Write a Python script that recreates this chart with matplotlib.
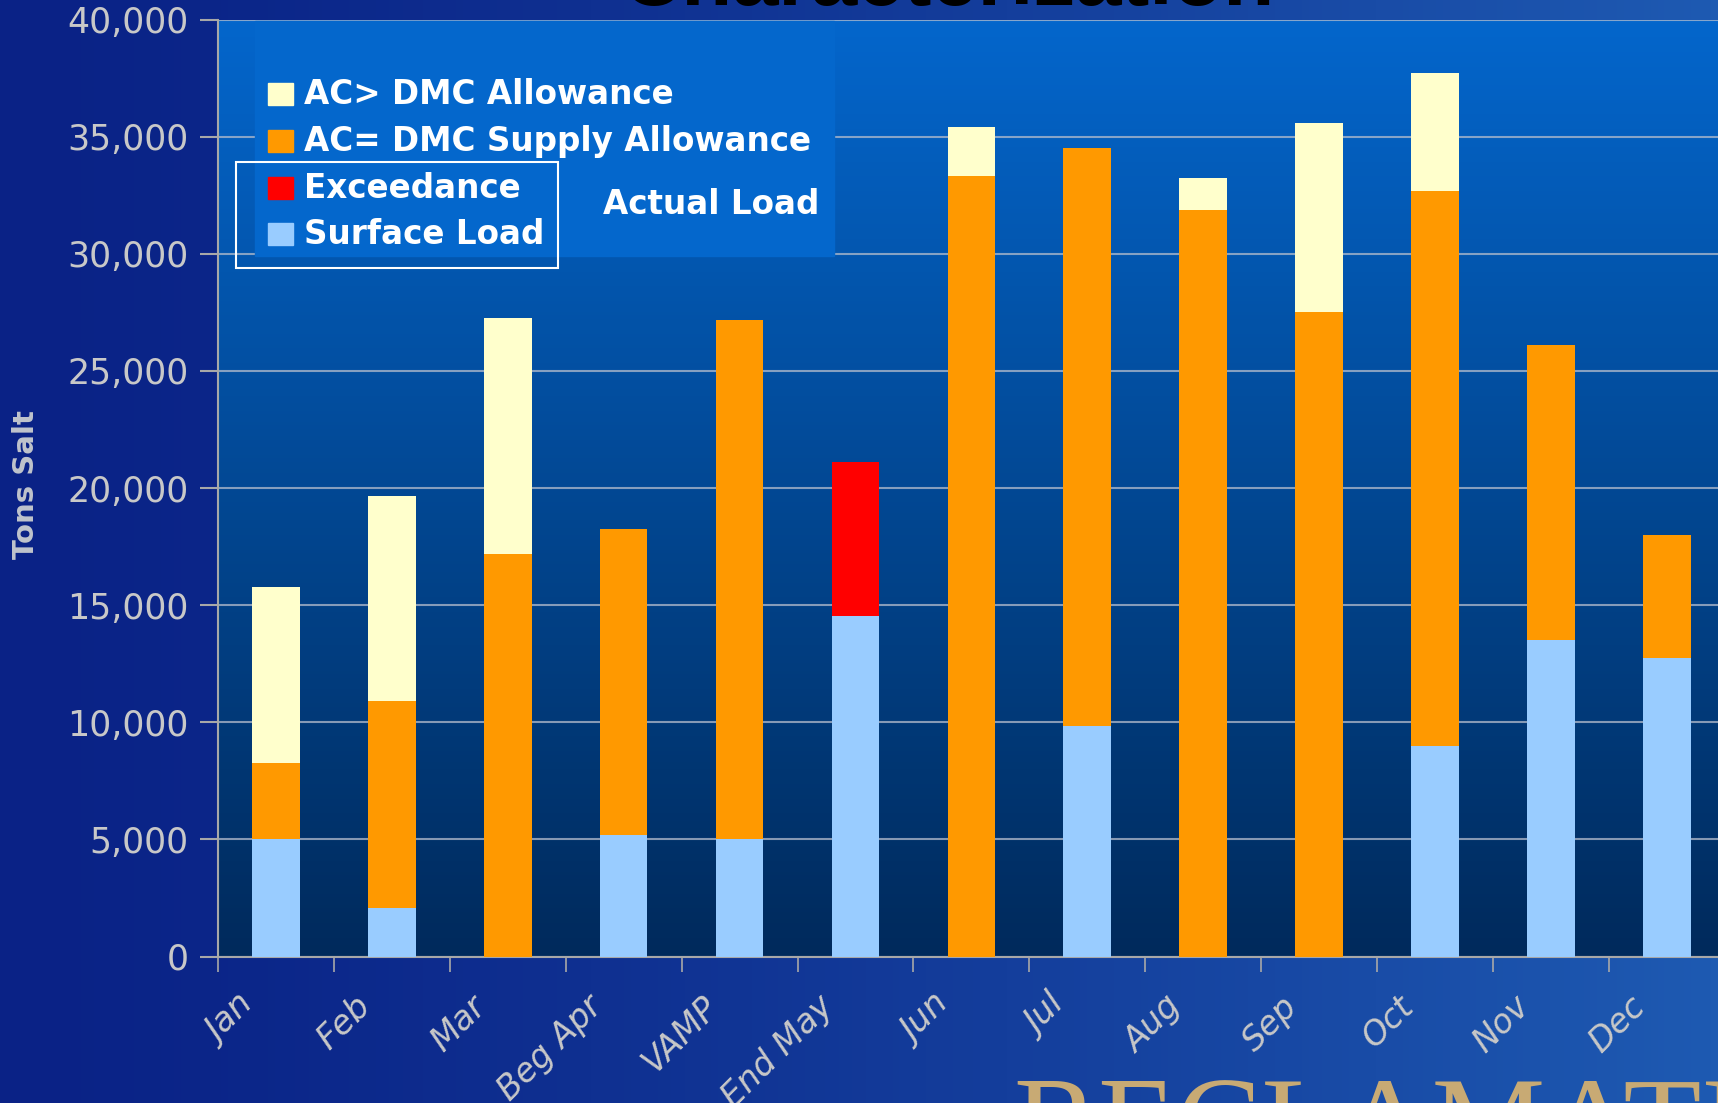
import numpy as np
import matplotlib
matplotlib.use("Agg")
import matplotlib.pyplot as plt
from matplotlib.patches import Rectangle

categories = ["Jan", "Feb", "Mar", "Beg Apr", "VAMP", "End May", "Jun",
              "Jul", "Aug", "Sep", "Oct", "Nov", "Dec"]

# tons of salt per segment, bottom to top
surface_load = [5000, 2050, 0, 5200, 5000, 14550, 0, 9830, 0, 0, 8980, 13520, 12730]
exceedance = [0, 0, 0, 0, 0, 6550, 0, 0, 0, 0, 0, 0, 0]
supply_allowance = [3280, 8850, 17170, 13050, 22180, 0, 33310, 24700, 31860, 27510, 23720, 12580, 5280]
dmc_allowance = [7490, 8750, 10100, 0, 0, 0, 2110, 0, 1400, 8090, 5010, 0, 0]

legend_labels = ["AC> DMC Allowance", "AC= DMC Supply Allowance", "Exceedance", "Surface Load"]
yticks = [0, 5000, 10000, 15000, 20000, 25000, 30000, 35000, 40000]

W, H = 1718, 1103


def fx(x):
    return x / W


def fy(y):
    return 1 - y / H


def main():
    plt.rcParams["font.family"] = ["DejaVu Sans"]
    fig = plt.figure(figsize=(W / 100, H / 100), dpi=100)

    # slide background
    bg = fig.add_axes([0, 0, 1, 1], zorder=-10)
    t = np.linspace(0, 1, 256) ** 1.3
    left = np.array([10, 34, 134]) / 255
    right = np.array([30, 90, 178]) / 255
    grad = left[None, :] + (right - left)[None, :] * t[:, None]
    bg.imshow(grad[None, :, :], aspect="auto", extent=[0, 1, 0, 1])
    bg.set_axis_off()

    ax = fig.add_axes([fx(218), fy(956.5), 13 * 115.9 / W, (956.5 - 19.7) / H])
    ax.set_xlim(-0.5, 12.5)
    ax.set_ylim(0, 40000)

    # plot area gradient
    top = np.array([4, 102, 204]) / 255
    bot = np.array([0, 42, 92]) / 255
    s = np.linspace(0, 1, 256)
    pg = top[None, :] + (bot - top)[None, :] * s[:, None]
    ax.imshow(pg[:, None, :], aspect="auto", extent=[-0.5, 12.5, 0, 40000], zorder=0)

    ax.set_axisbelow(True)
    ax.yaxis.grid(True, color="#B4BCCC", lw=1.5, alpha=0.75, zorder=1)

    # legend background covers gridlines
    ax.add_patch(Rectangle((fx(255), fy(256)), (834 - 255) / W, (256 - 21) / H,
                           transform=fig.transFigure, color="#0467CC", zorder=1.5))

    x = np.arange(len(categories))
    w = 0.41
    b1 = np.array(surface_load)
    b2 = b1 + np.array(exceedance)
    b3 = b2 + np.array(supply_allowance)
    ax.bar(x, surface_load, w, color="#99CCFF", zorder=3)
    ax.bar(x, exceedance, w, bottom=b1, color="#FF0000", zorder=3)
    ax.bar(x, supply_allowance, w, bottom=b2, color="#FF9900", zorder=3)
    ax.bar(x, dmc_allowance, w, bottom=b3, color="#FFFFCC", zorder=3)

    for sp in ["top", "right"]:
        ax.spines[sp].set_visible(False)
    for sp in ["left", "bottom"]:
        ax.spines[sp].set_color("#A8A8A8")
        ax.spines[sp].set_linewidth(1.5)

    ax.set_yticks(yticks)
    ax.set_yticklabels([f"{v:,}" for v in yticks])
    ax.tick_params(axis="y", colors="#A8A8A8", length=13, width=1.5, pad=8,
                   labelsize=25, labelcolor="#C8C8C8")

    ax.set_xticks(np.arange(13) - 0.5, minor=True)
    ax.tick_params(axis="x", which="minor", length=11, width=1.2, colors="#A8A8A8")
    ax.set_xticks(x - 0.33)
    ax.set_xticklabels(categories, rotation=45, ha="right", rotation_mode="anchor",
                       fontsize=24, color="#C8C8C8", style="italic")
    ax.tick_params(axis="x", which="major", length=0, pad=24)

    fig.text(fx(26), fy(485), "Tons Salt", rotation=90, fontsize=21, fontweight="bold",
             color="#C0C4CC", ha="center", va="center")

    # legend
    colors = ["#FFFFCC", "#FF9900", "#FF0000", "#99CCFF"]
    rows = [94, 141, 188, 234]
    for lab, c, yy in zip(legend_labels, colors, rows):
        fig.patches.append(Rectangle((fx(268), fy(yy + 11)), 25 / W, 22 / H,
                                     transform=fig.transFigure, color=c, zorder=5))
        fig.text(fx(304), fy(yy), lab, fontsize=23.5, fontweight="bold", color="white",
                 ha="left", va="center", zorder=5)
    fig.patches.append(Rectangle((fx(236), fy(268)), (558 - 236) / W, (268 - 162) / H,
                                 transform=fig.transFigure, fill=False, ec="white",
                                 lw=1.5, zorder=5))
    fig.text(fx(603), fy(205), "Actual Load", fontsize=23.5, fontweight="bold",
             color="white", ha="left", va="center", zorder=5)

    # cut-off slide title and logo text
    fig.text(fx(948), fy(5), "Characterization", fontsize=60, fontweight="bold",
             color="black", ha="center", va="baseline", family="Liberation Sans")
    fig.text(fx(1013), fy(1165), "RECLAMATION", fontsize=92, color="#C8AA74",
             family="Liberation Serif", ha="left", va="baseline")

    fig.savefig("out.png", dpi=100)


if __name__ == "__main__":
    main()
